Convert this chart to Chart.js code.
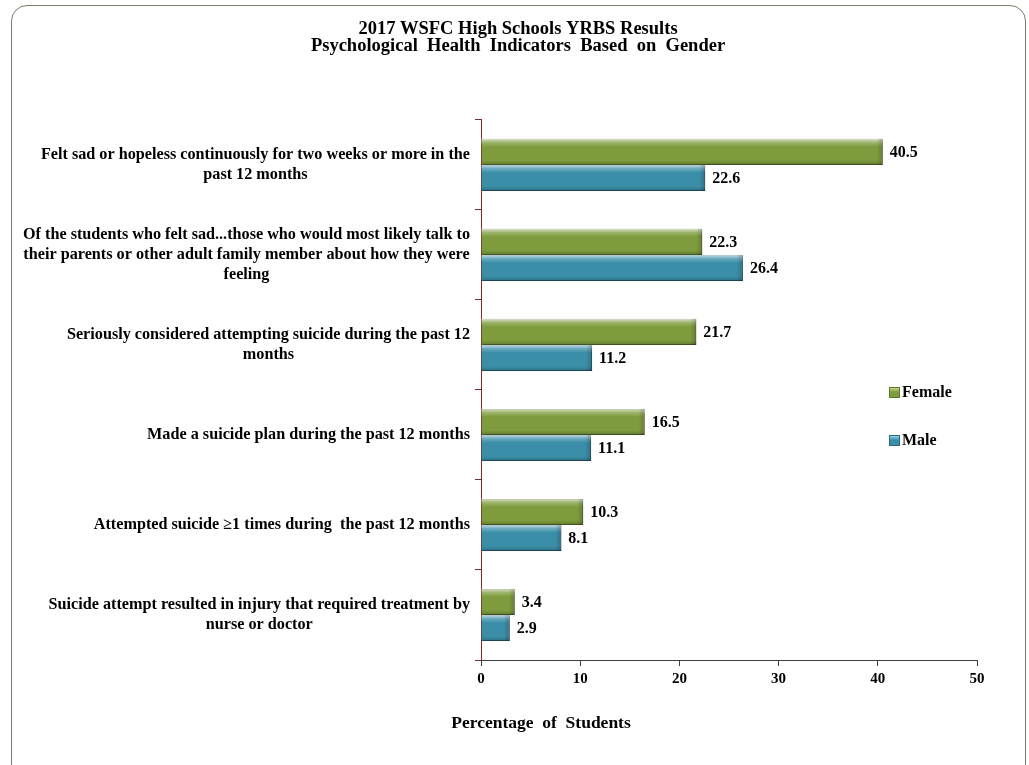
<!DOCTYPE html>
<html>
<head>
<meta charset="utf-8">
<script src="https://cdn.jsdelivr.net/npm/chart.js@4.4.1/dist/chart.umd.min.js"></script>
<style>
  html, body { margin: 0; padding: 0; background: #fff; }
  #wrap { position: relative; width: 1029px; height: 765px; overflow: hidden; }
  #frame { position: absolute; left: 11px; top: 5px; width: 1015px; height: 775px; border: 1.5px solid #7f7c69; border-radius: 16px; box-sizing: border-box; }
  canvas { position: absolute; left: 0; top: 0; }
  #legend { position: absolute; left: 889px; top: 382px; font: bold 16px "Liberation Serif", serif; color: #000; }
  .item { display: flex; align-items: center; height: 20px; margin-bottom: 28px; }
  .swatch { width: 11px; height: 11px; margin-right: 2px; box-sizing: border-box; }
</style>
</head>
<body>
<div id="wrap">
  <div id="frame"></div>
  <canvas id="chart" width="1029" height="765"></canvas>
  <div id="legend"></div>
</div>
<script>
const titleLines = ["2017 WSFC High Schools YRBS Results", "Psychological  Health  Indicators  Based  on  Gender"];
const axisTitle = "Percentage  of  Students";

const categories = [
  ["Felt sad or hopeless continuously for two weeks or more in the", "past 12 months"],
  ["Of the students who felt sad...those who would most likely talk to", "their parents or other adult family member about how they were", "feeling"],
  ["Seriously considered attempting suicide during the past 12", "months"],
  ["Made a suicide plan during the past 12 months"],
  ["Attempted suicide \u22651 times during  the past 12 months"],
  ["Suicide attempt resulted in injury that required treatment by", "nurse or doctor"]
];
const female = [40.5, 22.3, 21.7, 16.5, 10.3, 3.4];
const male = [22.6, 26.4, 11.2, 11.1, 8.1, 2.9];

const serif = '"Liberation Serif", "Times New Roman", serif';

// labels on the left: each block centred on itself, block pushed to the axis
const categoryLabels = {
  id: "categoryLabels",
  afterDraw(chart) {
    const ctx = chart.ctx;
    const yScale = chart.scales.y;
    const right = chart.chartArea.left - 11;
    ctx.save();
    ctx.font = "bold 16.2px " + serif;
    ctx.fillStyle = "#000";
    ctx.textAlign = "center";
    ctx.textBaseline = "middle";
    categories.forEach((lines, i) => {
      const y = yScale.getPixelForValue(i);
      const widest = Math.max(...lines.map(line => ctx.measureText(line).width));
      lines.forEach((line, j) => {
        ctx.fillText(line, right - widest / 2, y + (j - (lines.length - 1) / 2) * 20);
      });
    });
    // x axis title sits a bit left of the axis centre in the original
    ctx.font = "bold 17.5px " + serif;
    ctx.fillText(axisTitle, chart.chartArea.left + 60, 723);
    ctx.restore();
  }
};

// shading on each bar plus the value next to it
const barFinish = {
  id: "barFinish",
  beforeDatasetsDraw(chart) {
    const ctx = chart.ctx;
    ctx.save();
    ctx.shadowColor = "rgba(0,0,0,0.28)";
    ctx.shadowBlur = 3;
    ctx.shadowOffsetX = 2;
    ctx.shadowOffsetY = 2;
  },
  afterDatasetsDraw(chart) {
    const ctx = chart.ctx;
    ctx.restore();
    ctx.save();
    chart.data.datasets.forEach((dataset, di) => {
      chart.getDatasetMeta(di).data.forEach((bar, index) => {
        const { x, y, base, height } = bar.getProps(["x", "y", "base", "height"], true);
        const top = y - height / 2;
        const shade = ctx.createLinearGradient(0, top, 0, top + height);
        shade.addColorStop(0, "rgba(255,255,255,0.7)");
        shade.addColorStop(0.14, "rgba(255,255,255,0.25)");
        shade.addColorStop(0.3, "rgba(255,255,255,0)");
        shade.addColorStop(0.82, "rgba(0,0,0,0)");
        shade.addColorStop(1, "rgba(0,0,0,0.22)");
        ctx.fillStyle = shade;
        ctx.fillRect(base, top, x - base, height);
        const edge = ctx.createLinearGradient(x - 6, 0, x, 0);
        edge.addColorStop(0, "rgba(0,0,0,0)");
        edge.addColorStop(1, "rgba(0,0,0,0.2)");
        ctx.fillStyle = edge;
        ctx.fillRect(x - 6, top, 6, height);

        ctx.fillStyle = "#000";
        ctx.font = "bold 16px " + serif;
        ctx.textAlign = "left";
        ctx.textBaseline = "middle";
        ctx.fillText(dataset.data[index].toFixed(1), x + 7, y + 1);
      });
    });
    ctx.restore();
  }
};

const chart = new Chart(document.getElementById("chart").getContext("2d"), {
  type: "bar",
  data: {
    labels: categories,
    datasets: [
      {
        label: "Female",
        data: female,
        backgroundColor: "#7e9c3e",
        borderColor: "#5f7a2b",
        borderWidth: 1,
        categoryPercentage: 0.58,
        barPercentage: 1
      },
      {
        label: "Male",
        data: male,
        backgroundColor: "#3a8ea8",
        borderColor: "#2a6b80",
        borderWidth: 1,
        categoryPercentage: 0.58,
        barPercentage: 1
      }
    ]
  },
  options: {
    indexAxis: "y",
    responsive: false,
    animation: false,
    layout: { padding: { left: 59, right: 52, top: 0, bottom: 25 } },
    plugins: {
      legend: { display: false },
      tooltip: { enabled: false },
      title: {
        display: true,
        text: titleLines,
        color: "#000",
        font: { family: serif, size: 18.5, weight: "bold", lineHeight: 0.95 },
        padding: { top: 20, bottom: 64.8 }
      }
    },
    scales: {
      x: {
        min: 0,
        max: 50,
        ticks: { stepSize: 10, color: "#000", padding: 4, font: { family: serif, size: 15, weight: "bold" } },
        grid: { drawOnChartArea: false, drawTicks: true, tickLength: 6, color: "#404040" },
        border: { color: "#404040", width: 1 },
        afterFit: scale => { scale.height = 80; }
      },
      y: {
        ticks: { display: false },
        grid: { drawOnChartArea: false, drawTicks: true, tickLength: 6, color: "#7a2a2a" },
        border: { color: "#7a2a2a", width: 1 },
        afterFit: scale => { scale.width = 422; }
      }
    }
  },
  plugins: [categoryLabels, barFinish]
});

const legend = document.getElementById("legend");
chart.data.datasets.forEach(dataset => {
  const item = document.createElement("div");
  item.className = "item";
  const swatch = document.createElement("span");
  swatch.className = "swatch";
  swatch.style.background = `linear-gradient(#c4dc8a, ${dataset.backgroundColor} 45%)`;
  if (dataset.label === "Male") swatch.style.background = `linear-gradient(#8ed6ea, ${dataset.backgroundColor} 45%)`;
  swatch.style.border = "1px solid " + dataset.borderColor;
  item.appendChild(swatch);
  item.appendChild(document.createTextNode(dataset.label));
  legend.appendChild(item);
});
</script>
</body>
</html>
